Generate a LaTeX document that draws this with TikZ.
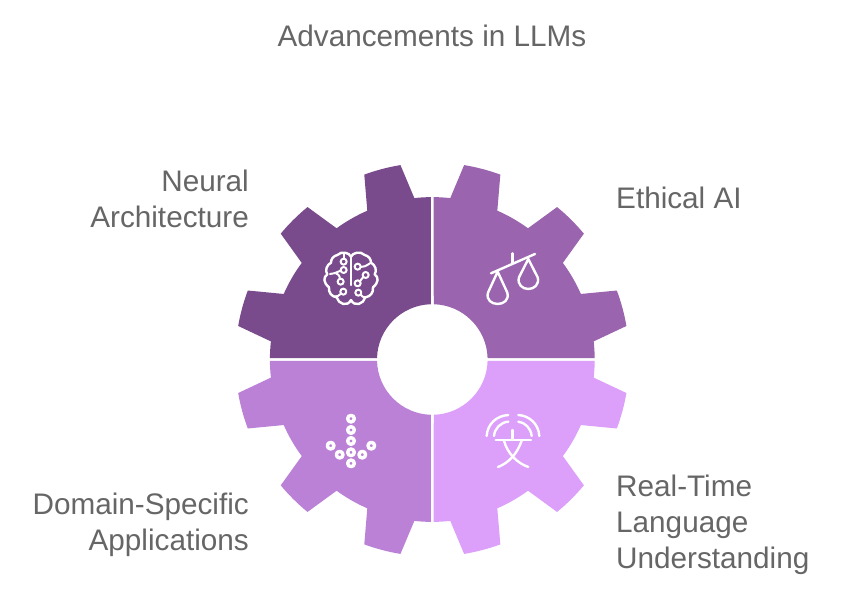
\documentclass[tikz,border=0pt]{standalone}
\usepackage{fontspec}
\setmainfont{Liberation Sans}
\definecolor{gearA}{HTML}{794A8C}
\definecolor{gearB}{HTML}{9A64AE}
\definecolor{gearC}{HTML}{BB81D6}
\definecolor{gearD}{HTML}{DC9FFA}
\definecolor{txt}{HTML}{666666}
\newcommand{\sectorpath}{
  (90.5:162.4) arc[start angle=90.5,end angle=96.35,radius=162.4pt]
  -- (99.3:197) arc[start angle=99.3,end angle=110.2,radius=197pt]
  -- (113.6:162.4) arc[start angle=113.6,end angle=126.1,radius=162.4pt]
  -- (129.3:197) arc[start angle=129.3,end angle=140.3,radius=197pt]
  -- (143.5:162.4) arc[start angle=143.5,end angle=156.2,radius=162.4pt]
  -- (159.5:197) arc[start angle=159.5,end angle=170.2,radius=197pt]
  -- (173.6:162.4) arc[start angle=173.6,end angle=179.5,radius=162.4pt]
  -- (178.5:55.3) arc[start angle=178.5,end angle=91.5,radius=55.3pt] -- cycle}
\tikzset{
  label/.style={font=\fontsize{29.7}{36}\selectfont, text=txt, inner sep=0pt},
  icon/.style={draw=white, line width=2.4pt, line cap=round, line join=round, fill=none},
  thinicon/.style={icon, line width=2pt},
  zoomone/.style={shift={(230,160)}, x=0.3333pt, y=-0.3333pt},
  zoomtwo/.style={shift={(430,160)}, x=0.3333pt, y=-0.3333pt},
  zoomthree/.style={shift={(230,350)}, x=0.3333pt, y=-0.3333pt},
  zoomfour/.style={shift={(430,350)}, x=0.3333pt, y=-0.3333pt},
}
\begin{document}
\begin{tikzpicture}[x=1pt,y=-1pt]
\useasboundingbox (0,0) rectangle (846,594);
\fill[white] (0,0) rectangle (846,594);
\begin{scope}[shift={(432.3,359.5)},x=1pt,y=1pt]
  \fill[gearA] \sectorpath;
  \begin{scope}[xscale=-1]\fill[gearB] \sectorpath;\end{scope}
  \begin{scope}[yscale=-1]\fill[gearC] \sectorpath;\end{scope}
  \begin{scope}[xscale=-1,yscale=-1]\fill[gearD] \sectorpath;\end{scope}
\end{scope}
\node[label,anchor=center] (title) at (432,36) {Advancements in LLMs};
\node[label,anchor=east,align=right] (neural) at (249,199) {Neural\\Architecture};
\node[label,anchor=west,align=left] (ethical) at (616,198) {Ethical AI};
\node[label,anchor=east,align=right] (domain) at (249,525) {Domain-Specific\\Applications};
\node[label,anchor=west,align=left] (realtime) at (616,525) {Real-Time\\Language\\Understanding};
% brain
\begin{scope}[zoomone]
  \draw[icon] (363,290) .. controls (358,278) and (335,272) .. (322,285)
     .. controls (310,288) and (303,297) .. (303,308)
     .. controls (290,315) and (284,332) .. (292,343)
     .. controls (279,352) and (280,368) .. (297,382)
     .. controls (295,398) and (305,410) .. (320,412)
     .. controls (325,432) and (352,442) .. (363,420);
  \draw[icon] (363,290) .. controls (368,278) and (391,272) .. (404,285)
     .. controls (416,288) and (423,297) .. (423,308)
     .. controls (436,315) and (442,332) .. (434,343)
     .. controls (447,352) and (446,368) .. (429,382)
     .. controls (431,398) and (421,410) .. (406,412)
     .. controls (401,432) and (374,442) .. (363,420);
  \draw[icon] (363,290) -- (363,375);
  \draw[thinicon] (341,305) circle[radius=9];
  \draw[thinicon] (341,296) -- (341,283);
  \draw[thinicon] (341,330) circle[radius=9] (332,332) .. controls (320,335) and (320,340) .. (300,342);
  \draw[thinicon] (332,365) circle[radius=9] (330,356) .. controls (328,345) and (324,342) .. (318,340);
  \draw[thinicon] (340,395) circle[radius=9] (333,401) .. controls (328,408) and (320,410) .. (312,410);
  \draw[thinicon] (383,320) circle[radius=9] (392,321) .. controls (400,322) and (408,318) .. (420,310);
  \draw[thinicon] (407,345) circle[radius=9] (400,351) .. controls (395,356) and (393,360) .. (390,364);
  \draw[thinicon] (383,370) circle[radius=9];
  \draw[thinicon] (385,398) circle[radius=9] (392,404) .. controls (396,410) and (400,412) .. (408,412);
\end{scope}
% scales
\begin{scope}[zoomtwo]
  \draw[icon] (183,340) -- (315,282);
  \draw[icon] (248,280) -- (248,310);
  \draw[icon] (203,335) -- (174,398) .. controls (168,420) and (185,432) .. (203,432) .. controls (221,432) and (238,420) .. (232,398) -- cycle;
  \draw[icon] (295,297) -- (267,352) .. controls (261,374) and (278,387) .. (295,387) .. controls (312,387) and (329,374) .. (323,352) -- cycle;
\end{scope}
% rings
\begin{scope}[zoomthree]
  \foreach \px/\py in {363/206,363/240,363/273,363/307,363/340,329/314,397/314,302/287,424/287}
    \draw[icon,line width=3.4pt] (\px,\py) circle[radius=10];
\end{scope}
% translate
\begin{scope}[zoomfour]
  \draw[icon] (170,258) .. controls (172,222) and (200,197) .. (235,195);
  \draw[icon] (192,258) .. controls (194,235) and (212,217) .. (235,215);
  \draw[icon] (328,258) .. controls (326,222) and (298,197) .. (265,195);
  \draw[icon] (305,258) .. controls (303,235) and (285,217) .. (265,215);
  \draw[icon] (197,270) -- (303,270);
  \draw[icon] (248,240) -- (248,270);
  \draw[icon] (222,272) .. controls (232,310) and (262,340) .. (295,351);
  \draw[icon] (275,272) .. controls (262,310) and (238,338) .. (204,351);
\end{scope}
\end{tikzpicture}
\end{document}
